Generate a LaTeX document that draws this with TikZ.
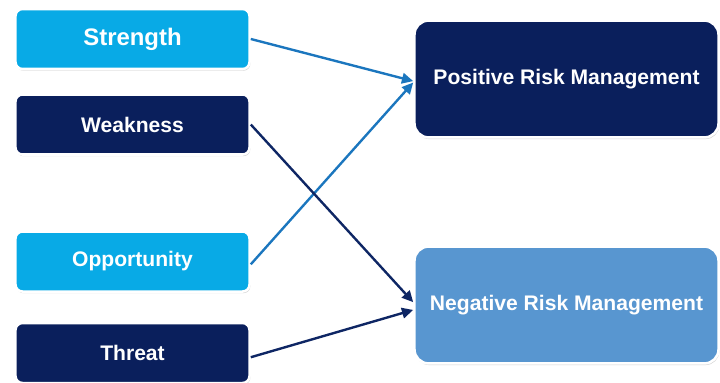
\documentclass[tikz,border=0pt]{standalone}
\usepackage{fontspec}
\setmainfont{Liberation Sans}
\usetikzlibrary{shadows,arrows.meta}
\definecolor{lightbox}{RGB}{8,170,230}
\definecolor{navybox}{RGB}{10,31,92}
\definecolor{negbox}{RGB}{88,150,208}
\definecolor{lightarrow}{RGB}{27,118,190}
\definecolor{navyarrow}{RGB}{14,38,100}
\begin{document}
\begin{tikzpicture}[x=0.025cm, y=-0.025cm,
        box/.style = {rounded corners=5pt, draw=white, line width=1.8pt,
            drop shadow={shadow xshift=0.6pt, shadow yshift=-1.2pt, fill=black!35},
            text=white, font=\bfseries\fontsize{15}{18}\selectfont, align=center},
        smallbox/.style = {box, minimum width=5.85cm, minimum height=1.5cm},
        bigbox/.style = {box, rounded corners=10pt, minimum width=7.6cm, minimum height=2.92cm},
        lightlink/.style = {draw=lightarrow, line width=1.7pt, -{Triangle[length=8pt, width=7.5pt]}},
        navylink/.style = {draw=navyarrow, line width=1.7pt, -{Triangle[length=8pt, width=7.5pt]}}]
        \useasboundingbox (0,0) rectangle (720,382);
        \node[smallbox, fill=lightbox, font=\bfseries\fontsize{17}{20}\selectfont] (str) at (132.5,39) {Strength};
        \node[smallbox, fill=navybox] (weak) at (132.5,124.5) {Weakness};
        \node[smallbox, fill=lightbox] (opp) at (132.5,261.5) {Opportunity};
        \node[smallbox, fill=navybox] (thr) at (132.5,353) {Threat};
        \node[bigbox, fill=navybox] (pos) at (566.5,79) {Positive Risk Management};
        \node[bigbox, fill=negbox] (neg) at (566.5,305) {Negative Risk Management};
        \draw[lightlink] (str.east) -- ([yshift=-1.5pt]pos.west);
        \draw[lightlink] ([yshift=-2pt]opp.east) -- ([yshift=-2.5pt]pos.west);
        \draw[navylink] (weak.east) -- ([yshift=2pt]neg.west);
        \draw[navylink] ([yshift=-3pt]thr.east) -- ([yshift=-3.5pt]neg.west);
\end{tikzpicture}
\end{document}
